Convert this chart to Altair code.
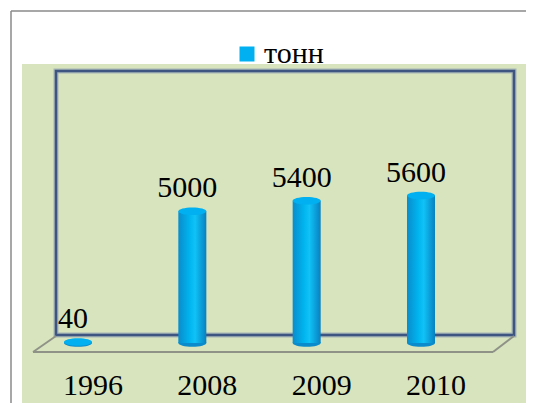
import altair as alt
import pandas as pd

# ---- data ----
years = ["1996", "2008", "2009", "2010"]
values = [40, 5000, 5400, 5600]
series = ["тонн", "тонн", "тонн", "тонн"]

df = pd.DataFrame({"year": years, "value": values, "series": series, "zero": [0, 0, 0, 0]})
one = pd.DataFrame({"a": [0]})

FONT = "Liberation Serif"
W, H = 518, 395

xenc = alt.X("year:O", scale=alt.Scale(type="point", range=[70, 413], padding=0), axis=None)
yscale = alt.Scale(domain=[0, 5600], range=[335, 187.5], nice=False, zero=True)

ellipse = "M-1,0A1,0.27,0,1,0,1,0A1,0.27,0,1,0,-1,0Z"

grad = alt.Gradient(
    gradient="linear",
    stops=[
        alt.GradientStop(color="#0a8ccc", offset=0),
        alt.GradientStop(color="#00b4ee", offset=0.4),
        alt.GradientStop(color="#10c2f7", offset=0.6),
        alt.GradientStop(color="#0880c0", offset=1),
    ],
    x1=0, x2=1, y1=0, y2=0,
)


def deco_rect(x, x2, y, y2, **mk):
    return alt.Chart(one).mark_rect(**mk).encode(
        x=alt.value(x), x2=alt.value(x2), y=alt.value(y), y2=alt.value(y2)
    )


def deco_rule(x, y, x2, y2, **mk):
    return alt.Chart(one).mark_rule(**mk).encode(
        x=alt.value(x), x2=alt.value(x2), y=alt.value(y), y2=alt.value(y2)
    )


# ---- decorations ----
green = deco_rect(14, W + 20, 56, H + 20, fill="#d7e4bd")
border_top = deco_rule(3, 3, W + 20, 3, stroke="#8a8a8a", strokeWidth=1.5)
border_left = deco_rule(3, 3, 3, H + 20, stroke="#8a8a8a", strokeWidth=1.5)
glow = deco_rect(48, 506, 63, 327, fillOpacity=0, stroke="#8797b3", strokeWidth=5, strokeOpacity=0.6)
box = deco_rect(48, 506, 63, 327, fillOpacity=0, stroke="#3e5582", strokeWidth=2.5)
floor_l = deco_rule(25, 344, 48, 328, stroke="#8e9287", strokeWidth=2)
floor_b = deco_rule(25, 344, 485, 344, stroke="#8e9287", strokeWidth=2)
floor_r = deco_rule(485, 344, 506, 328, stroke="#8e9287", strokeWidth=2)

# ---- data marks ----
base = alt.Chart(df)

bottom_cap = base.mark_point(shape=ellipse, size=784, filled=True, opacity=1, color="#0a8ccc").encode(
    x=xenc, y=alt.Y("zero:Q", scale=yscale, axis=None)
)
bars = base.mark_bar(size=28, color=grad).encode(
    x=xenc, y=alt.Y("value:Q", scale=yscale, axis=None)
)
top_cap = base.mark_point(shape=ellipse, size=784, filled=True, opacity=1).encode(
    x=xenc,
    y=alt.Y("value:Q", scale=yscale, axis=None),
    color=alt.Color(
        "series:N",
        scale=alt.Scale(range=["#00b0f0"]),
        legend=alt.Legend(
            title=None, orient="none", legendX=224, legendY=31, padding=0,
            symbolType="square", symbolSize=225, symbolStrokeWidth=0,
            labelFont=FONT, labelFontSize=30, labelColor="black", labelOffset=2,
        ),
    ),
)
value_labels = base.mark_text(
    dx=-5, dy=-14, baseline="alphabetic", font=FONT, fontSize=30, color="black"
).encode(x=xenc, y=alt.Y("value:Q", scale=yscale, axis=None), text="value:Q")

year_labels = base.mark_text(
    dx=15, baseline="alphabetic", font=FONT, fontSize=30, color="black"
).encode(x=xenc, y=alt.value(H - 8), text="year:N")

chart = alt.layer(
    green, border_top, border_left, glow, box, floor_l, floor_b, floor_r,
    bottom_cap, bars, top_cap, value_labels, year_labels,
).properties(
    width=W, height=H,
    autosize=alt.AutoSizeParams(type="none"),
    padding=0,
    background="white",
).configure_view(stroke=None)

chart.save("out.html", embed_options={"renderer": "svg", "actions": False})
